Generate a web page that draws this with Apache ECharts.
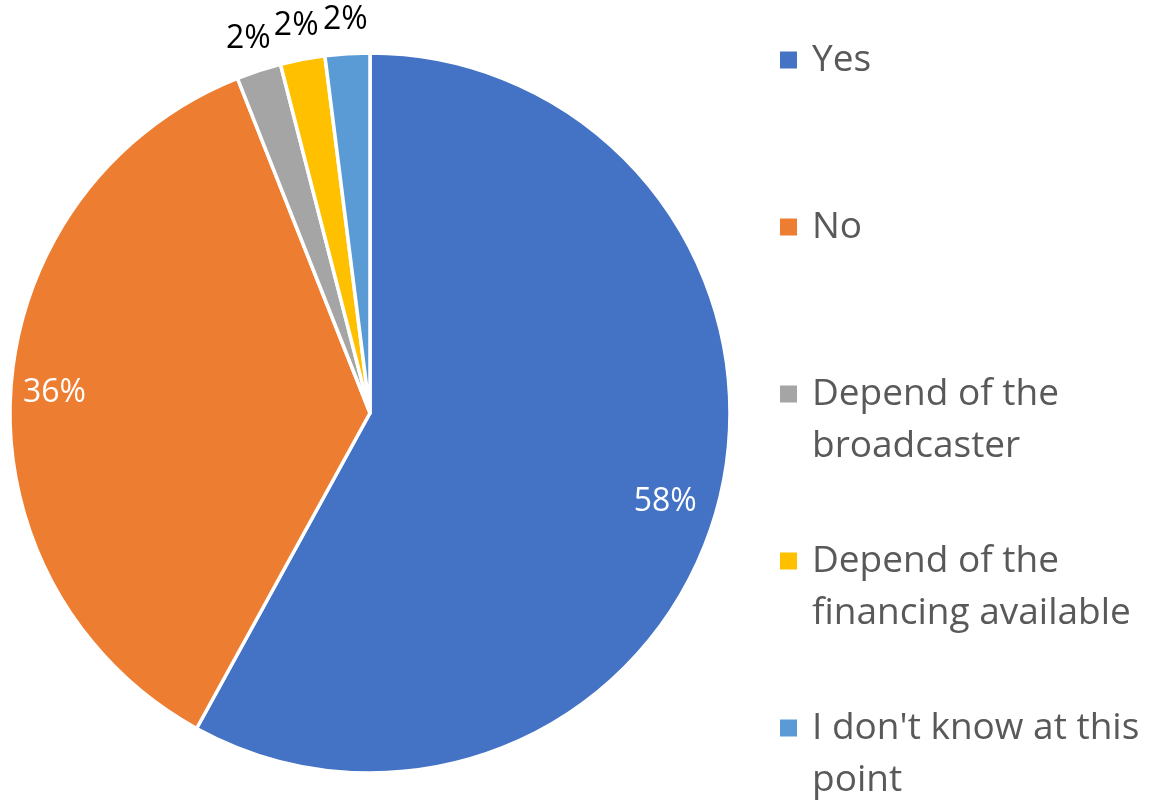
<!DOCTYPE html>
<html>
<head>
<meta charset="utf-8">
<title>Pie chart</title>
<script src="https://cdn.jsdelivr.net/npm/echarts@6/dist/echarts.min.js"></script>
<style>
  html, body { margin: 0; padding: 0; background: #ffffff; }
  #chart { width: 1154px; height: 804px; }
</style>
</head>
<body>
<div id="chart"></div>
<script>
// Survey answers and their shares (%)
const categories = [
  'Yes',
  'No',
  'Depend of the broadcaster',
  'Depend of the financing available',
  "I don't know at this point"
];
const values = [58, 36, 2, 2, 2];
const colors = ['#4472C4', '#ED7D31', '#A5A5A5', '#FFC000', '#5B9BD5'];

// Legend text broken into lines as shown beside the pie
const legendLines = {
  'Yes': ['Yes'],
  'No': ['No'],
  'Depend of the broadcaster': ['Depend of the', 'broadcaster'],
  'Depend of the financing available': ['Depend of the', 'financing available'],
  "I don't know at this point": ["I don't know at this", 'point']
};

const FONT = '"Open Sans", "Noto Sans", sans-serif';
const CENTER = [370, 413];
const R = 360;
const LINE_H = 52;
const BIG_SHARE = 10;

const pieData = categories.map((name, i) => ({
  name: name,
  value: values[i],
  itemStyle: { color: colors[i] }
}));

// One legend block per answer, symbol aligned with the first text line
const legendTops = [34, 201, 316, 483, 650];
const legends = categories.map((name, i) => {
  const lines = legendLines[name];
  // a blank leading line keeps the symbol centred on the first line of a wrapped label
  const text = lines.length > 1 ? '\n' + lines.join('\n') : lines[0];
  return {
    data: [name],
    orient: 'vertical',
    left: 778,
    top: legendTops[i],
    padding: 0,
    icon: 'rect',
    itemWidth: 19,
    itemHeight: 19,
    selectedMode: false,
    formatter: () => text,
    textStyle: {
      fontFamily: FONT,
      fontSize: 37,
      color: '#595959',
      lineHeight: LINE_H,
      padding: [0, 0, 0, 9]
    }
  };
});

const ringBase = {
  type: 'pie',
  center: CENTER,
  startAngle: 90,
  clockwise: true,
  silent: true,
  legendHoverLink: false,
  emphasis: { disabled: true },
  labelLine: { show: false },
  itemStyle: { color: 'rgba(0,0,0,0)', borderWidth: 0 },
  tooltip: { show: false }
};

// the largest slice's label sits a little further round, nearer the centre
const labelShift = { 0: [-11, 10] };

const option = {
  backgroundColor: '#ffffff',
  animation: false,
  legend: legends,
  series: [
    {
      // the pie itself
      type: 'pie',
      center: CENTER,
      radius: R,
      startAngle: 90,
      clockwise: true,
      data: pieData,
      itemStyle: { borderColor: '#ffffff', borderWidth: 3.5 },
      label: { show: false },
      labelLine: { show: false },
      emphasis: { scale: false }
    },
    Object.assign({}, ringBase, {
      // percentage labels inside the large slices
      radius: [R * 0.74, R],
      data: categories.map((name, i) => ({
        name: name,
        value: values[i],
        label: labelShift[i] ? { offset: labelShift[i] } : {}
      })),
      label: {
        show: true,
        position: 'inside',
        formatter: p => (p.value >= BIG_SHARE ? p.value + '%' : ''),
        color: '#ffffff',
        fontFamily: FONT,
        fontSize: 32
      }
    }),
    Object.assign({}, ringBase, {
      // percentage labels just outside the thin slices
      radius: [R, R * 1.17],
      data: categories.map((name, i) => ({ name: name, value: values[i] })),
      label: {
        show: true,
        position: 'inside',
        formatter: p => (p.value < BIG_SHARE ? p.value + '%' : ''),
        color: '#000000',
        fontFamily: FONT,
        fontSize: 32
      }
    })
  ]
};

const chart = echarts.init(document.getElementById('chart'), null, { renderer: 'canvas' });
chart.setOption(option);
</script>
</body>
</html>
